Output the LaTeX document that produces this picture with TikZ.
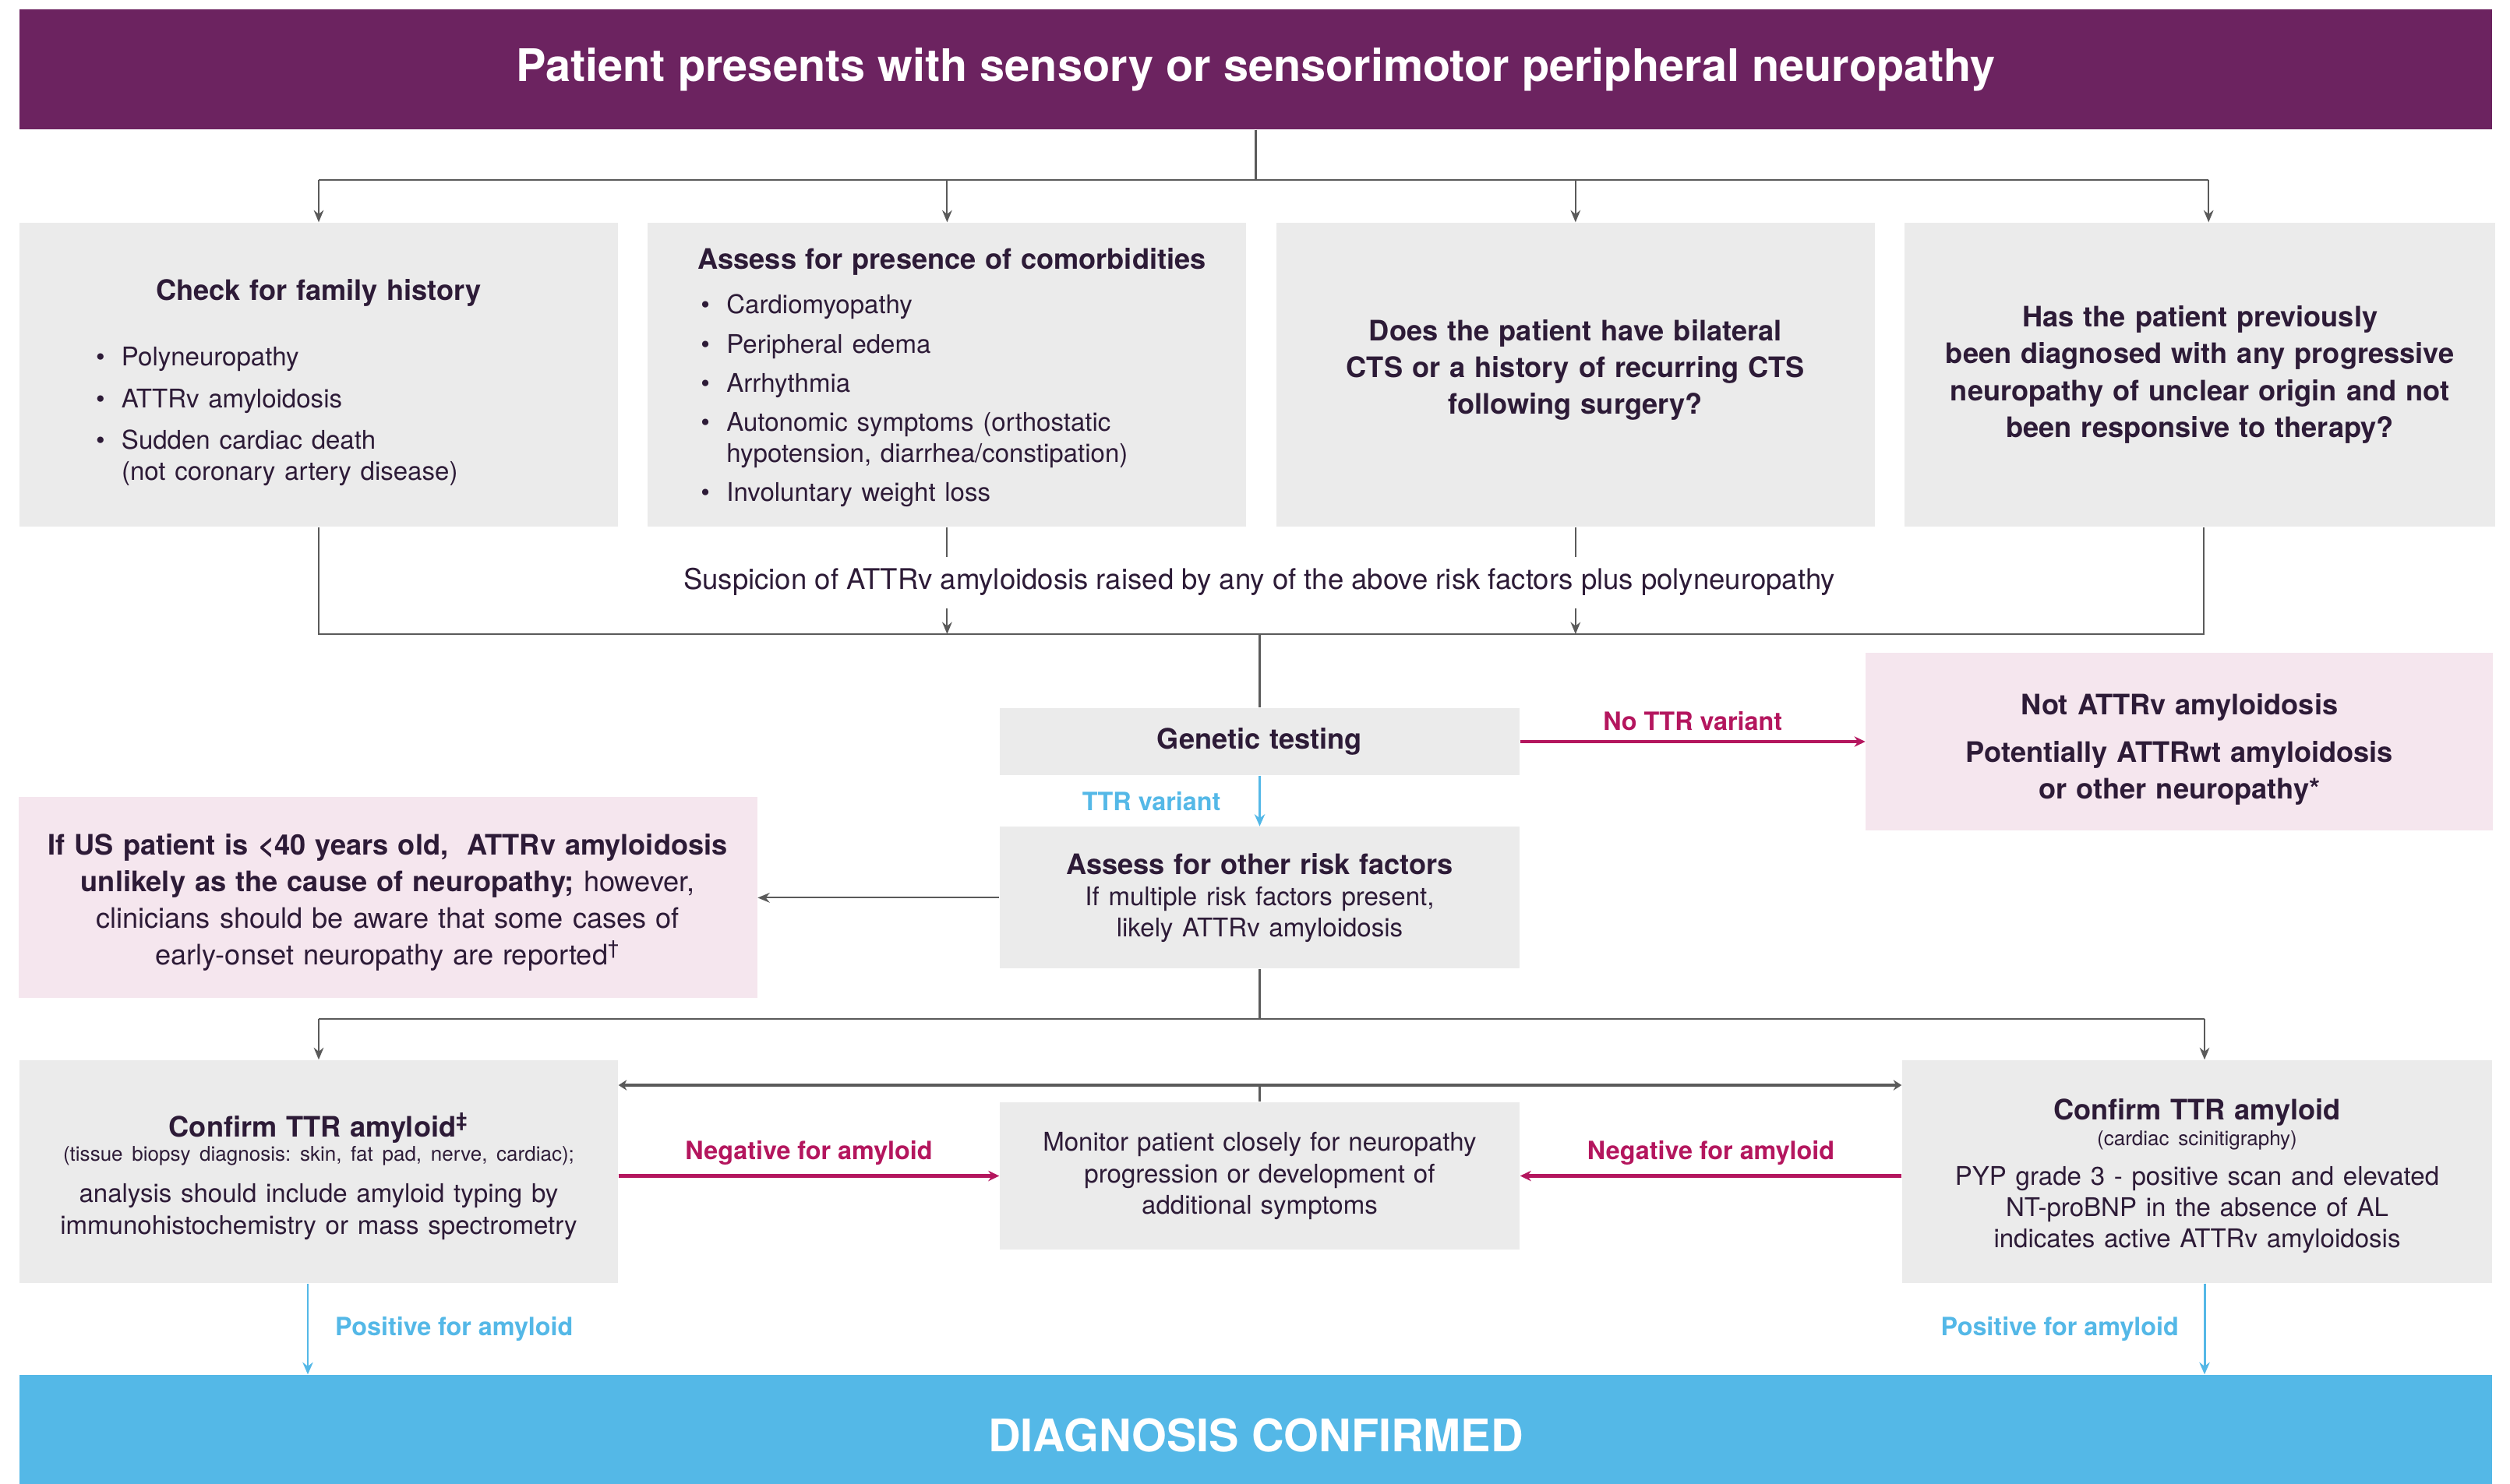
\documentclass[tikz,border=0pt]{standalone}
\usepackage{fontspec}
\setmainfont{TeX Gyre Heros}
\usepackage{tikz}
\usetikzlibrary{arrows.meta,positioning,calc}
\frenchspacing

\definecolor{plum}{RGB}{108,35,96}
\definecolor{ink}{RGB}{45,27,55}
\definecolor{boxgray}{RGB}{235,235,235}
\definecolor{blush}{RGB}{245,230,238}
\definecolor{sky}{RGB}{84,184,231}
\definecolor{berry}{RGB}{180,22,94}
\definecolor{wire}{RGB}{90,90,90}

\newcommand{\bodyfont}{\fontsize{9.4}{11.4}\selectfont}
\newcommand{\headfont}{\fontsize{10.3}{13.4}\selectfont\bfseries}
\newcommand{\bigfont}{\fontsize{10.3}{13.4}\selectfont}
\newcommand{\smallfont}{\fontsize{7.4}{9}\selectfont}
\newcommand{\labelfont}{\fontsize{9.2}{11}\selectfont\bfseries}
\newlength\itemgap
\newcommand{\bitem}[1]{\par\vskip\itemgap\hangindent=0.33cm\hangafter=1\noindent\makebox[0.33cm][l]{\textbullet}#1}

\begin{document}
\begin{tikzpicture}[
    every node/.style={text=ink},
    banner/.style={
      fill=plum, text=white, inner sep=0pt,
      minimum width=31.73cm, minimum height=1.54cm,
      font=\fontsize{16.4}{20}\selectfont\bfseries
    },
    finalbox/.style={
      fill=sky, text=white, inner sep=0pt,
      minimum width=31.73cm, minimum height=1.55cm,
      font=\fontsize{16.4}{20}\selectfont\bfseries
    },
    graybox/.style={fill=boxgray, inner sep=0pt, align=center},
    pinkbox/.style={fill=blush, inner sep=0pt, align=center},
    wideblock/.style={minimum width=7.68cm, minimum height=3.90cm, text width=6.40cm},
    midblock/.style={minimum width=6.67cm, text width=6.40cm},
    link/.style={draw=wire, line width=0.6pt},
    arrow/.style={link, -{Stealth[length=4.4pt,width=3.6pt]}},
    twoway/.style={draw=wire, line width=0.9pt,
      {Stealth[length=3pt,width=3.8pt]}-{Stealth[length=3pt,width=3.8pt]}},
    noarrow/.style={draw=berry, line width=1.3pt, -{Stealth[length=4pt,width=3.8pt]}},
    yesarrow/.style={draw=sky, line width=0.85pt, -{Stealth[length=4.4pt,width=3.8pt]}},
    nolabel/.style={text=berry, font=\labelfont},
    yeslabel/.style={text=sky, font=\labelfont}
  ]

    \useasboundingbox (0,0) rectangle (32.21,-19.05);

    \node[banner] (banner) at (16.115,-0.89)
      {Patient presents with sensory or sensorimotor peripheral neuropathy};

    % risk factor row
    \node[graybox, wideblock, align=left] (family) at (4.09,-4.81) {%
      \vskip 0pt
      {\centering\headfont Check for family history\par}
      \vskip 8.8pt
      \bodyfont\leftskip=0.34cm\setlength\itemgap{3.8pt}
      \bitem{Polyneuropathy}
      \bitem{ATTRv amyloidosis}
      \bitem{Sudden cardiac death\newline(not coronary artery disease)}\par};
    \node[graybox, wideblock, align=left, right=0.37cm of family] (comorb) {%
      \vskip -3.6pt
      {\headfont\mbox{Assess for presence of comorbidities}\par}
      \vskip 2.1pt
      \bodyfont\leftskip=0.04cm\setlength\itemgap{2.9pt}
      \bitem{Cardiomyopathy}
      \bitem{Peripheral edema}
      \bitem{Arrhythmia}
      \bitem{Autonomic symptoms (orthostatic\newline hypotension, diarrhea/constipation)}
      \bitem{Involuntary weight loss}\par};
    \node[graybox, wideblock, text width=7.2cm, font=\headfont, right=0.37cm of comorb] (cts)
      {Does the patient have bilateral\\CTS or a history of recurring CTS\\following surgery?\par
       \nointerlineskip\vskip 3.5pt\null};
    \node[graybox, wideblock, minimum width=7.58cm, text width=7.2cm, font=\headfont, right=0.37cm of cts] (refractory)
      {Has the patient previously\\been diagnosed with any progressive\\neuropathy of unclear origin and not\\been responsive to therapy?};

    \node[font=\fontsize{10.4}{13.4}\selectfont] (suspicion) at (16.16,-7.47)
      {Suspicion of ATTRv amyloidosis raised by any of the above risk factors plus polyneuropathy};

    % testing
    \node[graybox, midblock, minimum height=0.86cm, font=\headfont] (genetic) at (16.165,-9.52)
      {Genetic testing};
    \node[pinkbox, minimum width=8.05cm, minimum height=2.28cm, text width=7.8cm,
      font=\headfont, right=4.43cm of genetic] (notattrv)
      {\vskip 0pt Not ATTRv amyloidosis\\[4pt]Potentially ATTRwt amyloidosis\\or other neuropathy*};
    \node[graybox, midblock, minimum height=1.82cm, below=0.65cm of genetic] (riskfactors) {%
      {\headfont Assess for other risk factors\par}
      {\bodyfont If multiple risk factors present,\\likely ATTRv amyloidosis\par}};
    \node[pinkbox, minimum width=9.48cm, minimum height=2.58cm, text width=9.2cm,
      font=\bigfont, left=3.10cm of riskfactors] (young)
      {\vskip -2.4pt
       \textbf{If US patient is <40 years old,~ ATTRv amyloidosis}\\
       \textbf{unlikely as the cause of neuropathy;} however,\\
       clinicians should be aware that some cases of\\
       early-onset neuropathy are reported\textsuperscript{\dag}};

    % confirmation
    \node[graybox, minimum width=7.68cm, minimum height=2.86cm, text width=7.2cm] (biopsy) at (4.09,-15.04) {%
      \vskip -1.2pt
      {\headfont Confirm TTR amyloid\textsuperscript{\ddag}\par}
      \vskip -0.2pt
      {\smallfont (tissue biopsy diagnosis: skin, fat pad, nerve, cardiac);\par}
      \vskip 3.8pt
      {\bodyfont analysis should include amyloid typing by\\immunohistochemistry or mass spectrometry\par}};
    \node[graybox, midblock, minimum height=1.89cm, font=\bodyfont] (monitor) at (16.165,-15.095)
      {Monitor patient closely for neuropathy\\progression or development of\\additional symptoms};
    \node[graybox, minimum width=7.57cm, minimum height=2.86cm, text width=7.2cm] (scinti) at (28.195,-15.04) {%
      \vskip -2.4pt
      {\headfont Confirm TTR amyloid\par}
      \vskip 0.4pt
      {\smallfont (cardiac scinitigraphy)\par}
      \vskip 3.2pt
      {\bodyfont PYP grade 3 - positive scan and elevated\\NT-proBNP in the absence of AL\\indicates active ATTRv amyloidosis\par}};

    \node[finalbox] (diag) at (16.115,-18.425) {DIAGNOSIS CONFIRMED};

    \coordinate (split) at (0,-2.31);
    \coordinate (join) at (0,-8.14);
    \coordinate (fork) at (0,-13.08);
    \coordinate (back) at (0,-13.93);
    \coordinate (topR) at ($(refractory.north)+(0.11,0)$);
    \coordinate (downR) at ($(refractory.south)+(0.05,0)$);
    \coordinate (posL) at ($(biopsy.south)+(-0.14,0)$);
    \coordinate (posR) at ($(scinti.south)+(0.095,0)$);

    % top fan-out
    \draw[link] (banner.south) -- (banner.south |- split);
    \draw[link] (family.north |- split) -- (topR |- split);
    \foreach \b in {family,comorb,cts}
      \draw[arrow] (\b.north |- split) -- (\b.north);
    \draw[arrow] (topR |- split) -- (topR);

    % collect into genetic testing
    \draw[link] (family.south) -- (family.south |- join) -- (downR |- join) -- (downR);
    \foreach \b in {comorb,cts} {
      \draw[link] (\b.south) -- ++(0,-0.38);
      \draw[arrow] ($(\b.south |- join)+(0,0.33)$) -- (\b.south |- join);
    }
    \draw[link] (genetic.north |- join) -- (genetic.north);

    \draw[noarrow] (genetic.east) -- node[above, nolabel] {No TTR variant} (genetic.east -| notattrv.west);
    \draw[yesarrow] (genetic.south) -- node[left=3.7mm, yeslabel] {TTR variant} (riskfactors.north);
    \draw[arrow] (riskfactors.west) -- (riskfactors.west -| young.east);

    % fan-out to confirmation
    \draw[link] (riskfactors.south) -- (riskfactors.south |- fork);
    \draw[link] (biopsy.north |- fork) -- (posR |- fork);
    \draw[arrow] (biopsy.north |- fork) -- (biopsy.north);
    \draw[arrow] (posR |- fork) -- (posR |- scinti.north);

    \draw[link] (monitor.north) -- (monitor.north |- back);
    \draw[twoway] (biopsy.east |- back) -- (scinti.west |- back);

    \draw[noarrow] (biopsy.east |- monitor.west) -- node[above, nolabel] {Negative for amyloid} (monitor.west);
    \draw[noarrow] (scinti.west |- monitor.east) -- node[above, nolabel] {Negative for amyloid} (monitor.east);

    \draw[yesarrow] (posL) -- node[right=2.2mm, yeslabel] {Positive for amyloid} (posL |- diag.north);
    \draw[yesarrow] (posR) -- node[left=2mm, yeslabel] {Positive for amyloid} (posR |- diag.north);

  \end{tikzpicture}
\end{document}
